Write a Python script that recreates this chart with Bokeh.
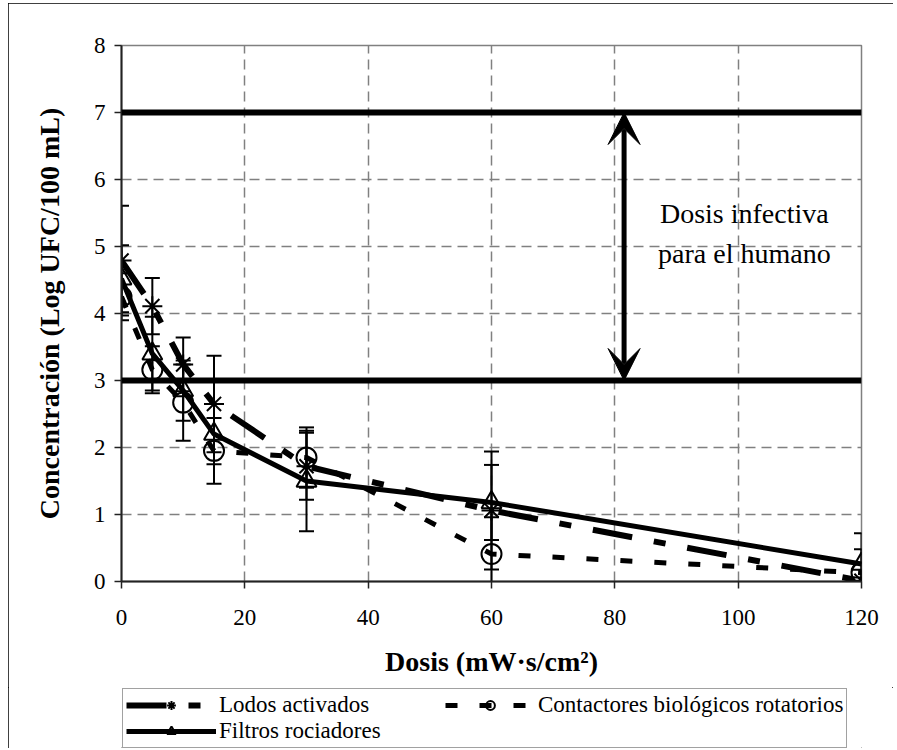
from bokeh.plotting import figure
from bokeh.layouts import column
from bokeh.models import (ColumnDataSource, Whisker, TeeHead, Span, Arrow, VeeHead,
                          Label, Legend, LegendItem, Range1d)
from bokeh.embed import file_html
from bokeh.resources import INLINE

# ---- data ----
dosis = [0, 5, 10, 15, 30, 60, 120]
lodos = [4.79, 4.11, 3.24, 2.65, 1.72, 1.06, 0.01]
lodos_err = [0.82, 0.42, 0.40, 0.72, 0.50, 0.88, 0.05]
filtros = [4.52, 3.40, 2.85, 2.20, 1.50, 1.18, 0.26]
filtros_err = [0.50, 0.55, 0.45, 0.45, 0.75, 0.56, 0.46]
contactores = [4.25, 3.16, 2.67, 1.95, 1.85, 0.41, 0.13]
contactores_err = [0.35, 0.35, 0.57, 0.49, 0.45, 0.55, 0.35]

x_ticks = [0, 20, 40, 60, 80, 100, 120]
y_ticks = [0, 1, 2, 3, 4, 5, 6, 7, 8]
limites = [3, 7]            # dosis infectiva para el humano
flecha_x = 81.5
anot_x = 101
anot_y = [5.49, 4.89]
anot_txt = ["Dosis infectiva", "para el humano"]
series_labels = ["Lodos activados", "Filtros rociadores", "Contactores biológicos rotatorios"]

FONT = "Liberation Serif"

# styles per series
LODOS = dict(line_width=6, line_dash="40 22 12 22", line_color="black")
CONT = dict(line_width=5, line_dash="12 22", line_color="black")
FILT = dict(line_width=5, line_color="black")
LODOS_M = dict(marker="asterisk", size=20, line_width=2, line_color="black")
CONT_M = dict(marker="circle", size=20, line_width=2, line_color="black", fill_color=None)
FILT_M = dict(marker="triangle", size=20, line_width=2, line_color="black", fill_color=None)

p = figure(width=885, height=684, x_range=(0, 120), y_range=(0, 8),
           output_backend="svg", toolbar_location=None,
           min_border_left=113, min_border_right=32,
           min_border_top=42, min_border_bottom=106)

# grid
for g in (p.xgrid, p.ygrid):
    g.grid_line_color = "#808080"
    g.grid_line_dash = "10 6"
    g.grid_line_width = 1.5
p.outline_line_color = "#808080"
p.outline_line_width = 1.5

# axes
p.xaxis.ticker = x_ticks
p.yaxis.ticker = y_ticks
for ax in (p.xaxis[0], p.yaxis[0]):
    ax.axis_line_color = "#222"
    ax.axis_line_width = 2
    ax.major_tick_line_color = "#222"
    ax.major_tick_line_width = 1.5
    ax.major_tick_out = 7
    ax.major_tick_in = 0
    ax.minor_tick_line_color = None
    ax.major_label_text_font = FONT
    ax.major_label_text_font_size = "23px"
    ax.major_label_text_color = "black"
    ax.axis_label_text_font = FONT
    ax.axis_label_text_font_size = "28px"
    ax.axis_label_text_font_style = "bold"
    ax.axis_label_text_color = "black"
p.xaxis.axis_label = "Dosis (mW·s/cm²)"
p.yaxis.axis_label = "Concentración (Log UFC/100 mL)"
p.xaxis.major_label_standoff = 21
p.xaxis.axis_label_standoff = 18
p.yaxis.major_label_standoff = 9
p.yaxis.axis_label_standoff = 26

# infective-dose limits
for v in limites:
    p.add_layout(Span(location=v, dimension="width", line_color="black", line_width=6))

# error bars
def whisk(vals, errs):
    src = ColumnDataSource(dict(x=dosis,
                                upper=[v + e for v, e in zip(vals, errs)],
                                lower=[v - e for v, e in zip(vals, errs)]))
    w = Whisker(source=src, base="x", upper="upper", lower="lower",
                line_color="black", line_width=2,
                upper_head=TeeHead(size=15, line_width=2, line_color="black"),
                lower_head=TeeHead(size=15, line_width=2, line_color="black"))
    p.add_layout(w)

whisk(lodos, lodos_err)
whisk(filtros, filtros_err)
whisk(contactores, contactores_err)

# lines
p.line(dosis, lodos, **LODOS)
p.line(dosis, contactores, **CONT)
p.line(dosis, filtros, **FILT)

# markers
p.scatter(dosis, lodos, **LODOS_M)
p.scatter(dosis, contactores, **CONT_M)
p.scatter(dosis, filtros, **FILT_M)

# double arrow
p.add_layout(Arrow(start=VeeHead(size=32, fill_color="black", line_color="black"),
                   end=VeeHead(size=32, fill_color="black", line_color="black"),
                   x_start=flecha_x, y_start=limites[0], x_end=flecha_x, y_end=limites[1],
                   line_width=5, line_color="black"))

for t, yy in zip(anot_txt, anot_y):
    p.add_layout(Label(x=anot_x, y=yy, text=t, text_align="center", text_baseline="middle",
                       text_font=FONT, text_font_size="28px", text_color="black"))

# ---- legend strip (separate figure below the chart) ----
# the series are drawn again here only as legend sources; the ranges keep them out of view
p2 = figure(width=885, height=61, x_range=Range1d(-1000, -999), y_range=Range1d(-1000, -999),
            output_backend="svg", toolbar_location=None, min_border=0)
p2.axis.visible = False
p2.grid.visible = False
p2.outline_line_color = None

l1 = p2.line(dosis, lodos, **LODOS); m1 = p2.scatter(dosis, lodos, **LODOS_M)
l2 = p2.line(dosis, filtros, **FILT); m2 = p2.scatter(dosis, filtros, **FILT_M)
l3 = p2.line(dosis, contactores, **CONT); m3 = p2.scatter(dosis, contactores, **CONT_M)

legend = Legend(items=[
    LegendItem(label=series_labels[0], renderers=[l1, m1]),
    LegendItem(label=series_labels[1], renderers=[l2, m2]),
    LegendItem(label=series_labels[2], renderers=[l3, m3]),
], ncols=2, location="top_left", glyph_width=90, glyph_height=22,
    label_width=226, label_standoff=3, padding=3, spacing=0, margin=1,
    border_line_color="#444", border_line_width=1.5,
    label_text_font=FONT, label_text_font_size="23px", label_text_color="black",
    background_fill_color="white", background_fill_alpha=1.0)
p2.add_layout(legend, "center")

layout = column(p, p2, spacing=0,
                styles={"margin-left": "8px", "margin-top": "3px",
                        "outline": "1px solid #000", "outline-offset": "-1px"})

open("out.html", "w").write(file_html(layout, INLINE))
